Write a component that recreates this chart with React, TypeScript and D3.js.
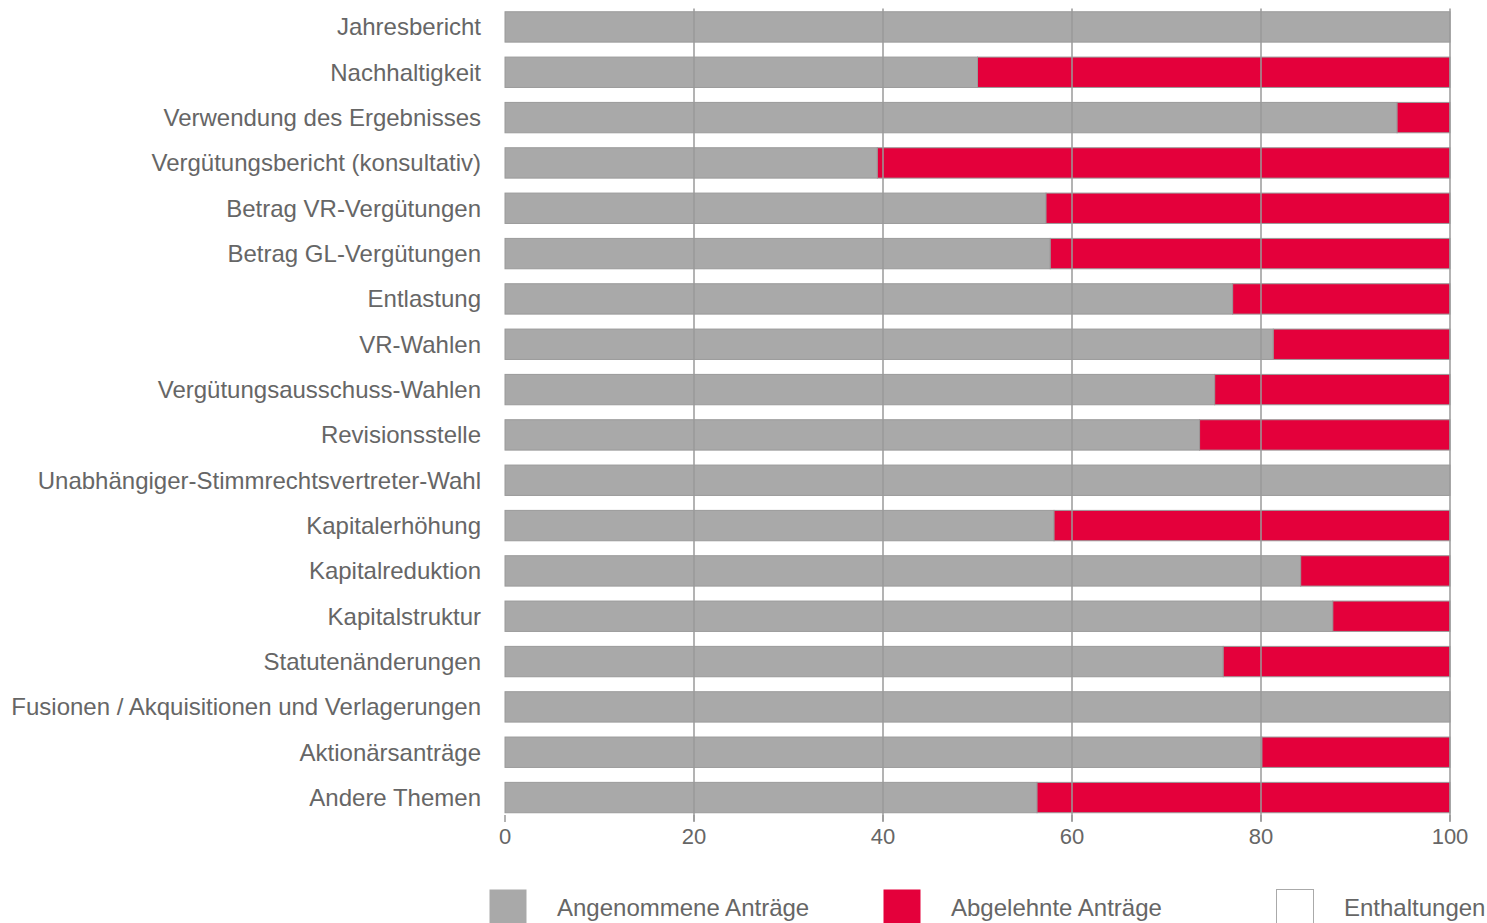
import React, { useEffect, useRef } from "react";
import * as d3 from "d3";

const categories = [
  "Jahresbericht",
  "Nachhaltigkeit",
  "Verwendung des Ergebnisses",
  "Vergütungsbericht (konsultativ)",
  "Betrag VR-Vergütungen",
  "Betrag GL-Vergütungen",
  "Entlastung",
  "VR-Wahlen",
  "Vergütungsausschuss-Wahlen",
  "Revisionsstelle",
  "Unabhängiger-Stimmrechtsvertreter-Wahl",
  "Kapitalerhöhung",
  "Kapitalreduktion",
  "Kapitalstruktur",
  "Statutenänderungen",
  "Fusionen / Akquisitionen und Verlagerungen",
  "Aktionärsanträge",
  "Andere Themen",
];

const angenommen = [100, 50, 94.4, 39.4, 57.25, 57.7, 77.0, 81.3, 75.1, 73.5, 100, 58.1, 84.2, 87.6, 76.0, 100, 80.1, 56.3];
const abgelehnt = [0, 50, 5.6, 60.6, 42.75, 42.3, 23.0, 18.7, 24.9, 26.5, 0, 41.9, 15.8, 12.4, 24.0, 0, 19.9, 43.7];
const enthaltungen = [0, 0, 0, 0, 0, 0, 0, 0, 0, 0, 0, 0, 0, 0, 0, 0, 0, 0];

const seriesKeys = ["angenommen", "abgelehnt", "enthaltungen"];
const seriesLabels = ["Angenommene Anträge", "Abgelehnte Anträge", "Enthaltungen"];
const xTicks = [0, 20, 40, 60, 80, 100];

function App() {
  const ref = useRef<SVGSVGElement | null>(null);

  useEffect(() => {
    const width = 1487;
    const marginLeft = 505;
    const marginRight = 37;
    const plotTop = 4.5;
    const plotBottom = 820;
    const font = "'Liberation Sans', Arial, sans-serif";

    const svg = d3.select(ref.current);
    svg.selectAll("*").remove();

    const rows = categories.map((c, i) => ({
      category: c,
      angenommen: angenommen[i],
      abgelehnt: abgelehnt[i],
      enthaltungen: enthaltungen[i],
    }));

    const color = d3.scaleOrdinal<string, string>().domain(seriesKeys).range(["#a9a9a9", "#e4003b", "#ffffff"]);

    const x = d3.scaleLinear().domain([0, 100]).range([marginLeft, width - marginRight]);
    const y = d3.scaleBand().domain(categories).range([plotTop, plotBottom]).paddingInner(0.33).paddingOuter(0.16);

    const stack = d3.stack<any>().keys(seriesKeys)(rows);

    svg
      .append("g")
      .selectAll("g")
      .data(stack)
      .join("g")
      .attr("fill", (d) => color(d.key))
      .attr("stroke", "#9a9a9a")
      .attr("stroke-width", 1)
      .selectAll("rect")
      .data((d) => d.filter((v) => v[1] - v[0] > 0))
      .join("rect")
      .attr("x", (d) => x(d[0]))
      .attr("y", (d) => y(d.data.category)!)
      .attr("width", (d) => x(d[1]) - x(d[0]))
      .attr("height", y.bandwidth());

    // gridlines on top of bars
    svg
      .append("g")
      .selectAll("line")
      .data(xTicks.slice(1))
      .join("line")
      .attr("x1", (d) => x(d))
      .attr("x2", (d) => x(d))
      .attr("y1", plotTop + 4)
      .attr("y2", plotBottom + 1)
      .attr("stroke", "#9a9a9a")
      .attr("stroke-width", 1.5);

    // x axis
    const xAxis = svg.append("g").attr("transform", `translate(0,${plotBottom - 5})`);
    xAxis
      .selectAll("line")
      .data(xTicks)
      .join("line")
      .attr("x1", (d) => x(d))
      .attr("x2", (d) => x(d))
      .attr("y1", 0)
      .attr("y2", 7)
      .attr("stroke", "#9a9a9a")
      .attr("stroke-width", 1.5);
    xAxis
      .selectAll("text")
      .data(xTicks)
      .join("text")
      .attr("x", (d) => x(d))
      .attr("y", 29)
      .attr("text-anchor", "middle")
      .attr("font-family", font)
      .attr("font-size", 22)
      .attr("fill", "#666")
      .text((d) => d);

    // category labels
    svg
      .append("g")
      .selectAll("text")
      .data(categories)
      .join("text")
      .attr("x", marginLeft - 24)
      .attr("y", (d) => y(d)! + y.bandwidth() / 2)
      .attr("dy", "0.35em")
      .attr("text-anchor", "end")
      .attr("font-family", font)
      .attr("font-size", 24)
      .attr("fill", "#666")
      .text((d) => d);

    // legend
    const legendX = [489, 883, 1276];
    const legend = svg
      .append("g")
      .selectAll("g")
      .data(seriesKeys)
      .join("g")
      .attr("transform", (d, i) => `translate(${legendX[i]},889)`);
    legend
      .append("rect")
      .attr("x", 0.5)
      .attr("y", 0.5)
      .attr("width", 37)
      .attr("height", 36)
      .attr("fill", (d) => color(d))
      .attr("stroke", (d) => (d === "enthaltungen" ? "#aaa" : "none"));
    legend
      .append("text")
      .attr("x", 68)
      .attr("y", 19)
      .attr("dy", "0.35em")
      .attr("font-family", font)
      .attr("font-size", 24)
      .attr("fill", "#666")
      .text((d, i) => seriesLabels[i]);
  }, []);

  return (
    <svg
      ref={ref}
      width={1487}
      height={923}
      viewBox="0 0 1487 923"
      style={{ position: "absolute", left: 0, top: 0, background: "#fff" }}
    />
  );
}

export default App;
